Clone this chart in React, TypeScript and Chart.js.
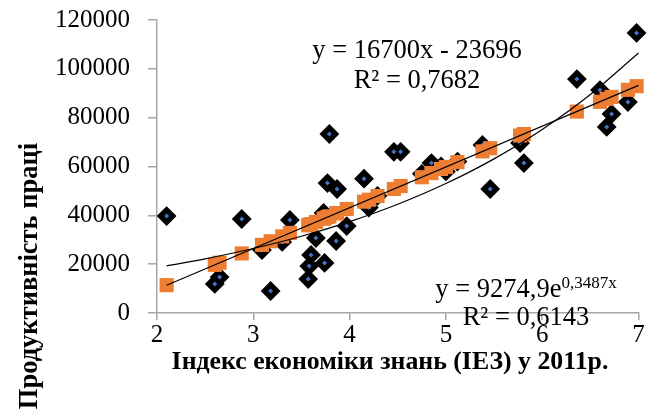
import React, { useEffect, useRef } from "react";
import { Chart, registerables } from "chart.js";

Chart.register(...registerables);

// Observed data: knowledge economy index (KEI) vs labour productivity
const KEI_X = [2.10, 2.60, 2.65, 2.88, 3.09, 3.18, 3.30, 3.38, 3.57, 3.58, 3.60, 3.65, 3.73, 3.74, 3.77, 3.79, 3.86, 3.87, 3.97, 4.15, 4.20, 4.29, 4.46, 4.53, 4.75, 4.85, 4.95, 5.00, 5.12, 5.38, 5.46, 5.77, 5.81, 6.36, 6.60, 6.67, 6.72, 6.89, 6.98];
const PRODUCTIVITY = [39700, 11900, 14700, 38500, 25800, 9000, 29100, 38100, 13900, 19200, 23800, 30700, 41000, 20500, 53200, 73300, 29500, 50800, 35600, 55000, 43200, 48000, 66000, 66000, 57000, 61400, 60000, 58000, 62000, 68800, 50800, 69600, 61400, 95800, 91300, 76200, 81500, 86400, 114700];
// Predicted (fitted) values shown as orange squares
const PREDICTED = [11400, 19700, 20600, 24400, 27900, 29400, 31400, 32800, 35900, 36100, 36400, 37300, 38600, 38800, 39300, 39600, 40800, 40900, 42600, 45600, 46400, 47900, 50800, 52000, 55600, 57300, 59000, 59800, 61800, 66200, 67500, 72700, 73300, 82500, 86500, 87700, 88500, 91400, 92900];
// Linear trend line endpoints
const LIN_X = [2.1, 7.0];
const LIN_Y = [11374, 93204];
// Exponential trend line values
const EXP_X = [2.1, 2.5, 3.0, 3.5, 4.0, 4.5, 5.0, 5.5, 6.0, 6.5, 7.0];
const EXP_Y = [19289, 22177, 26402, 31431, 37418, 44545, 53030, 63129, 75152, 89467, 106508];

const X_TICKS = [2, 3, 4, 5, 6, 7];
const Y_TICKS = [0, 20000, 40000, 60000, 80000, 100000, 120000];

const X_TITLE = "Індекс економіки знань (ІЕЗ) у 2011р.";
const Y_TITLE = "Продуктивність праці";
const LIN_EQ = "y = 16700x - 23696";
const LIN_R2 = "R² = 0,7682";
const EXP_EQ_MAIN = "y = 9274,9e";
const EXP_EQ_SUP = "0,3487x";
const EXP_R2 = "R² = 0,6143";

const SERIF = "'Liberation Serif', 'Times New Roman', serif";

const pts = (xs: number[], ys: number[]) => xs.map((x, i) => ({ x, y: ys[i] }));

const annotations = {
  id: "annotations",
  afterDraw(chart: any) {
    const ctx = chart.ctx as CanvasRenderingContext2D;
    ctx.save();
    ctx.fillStyle = "#000";
    ctx.textBaseline = "alphabetic";
    ctx.font = `26.5px ${SERIF}`;
    ctx.textAlign = "center";
    ctx.fillText(LIN_EQ, 417, 58);
    ctx.fillText(LIN_R2, 417, 88);

    ctx.font = `26.5px ${SERIF}`;
    const w1 = ctx.measureText(EXP_EQ_MAIN).width;
    ctx.font = `17px ${SERIF}`;
    const w2 = ctx.measureText(EXP_EQ_SUP).width;
    const start = 526 - (w1 + w2) / 2;
    ctx.textAlign = "left";
    ctx.font = `26.5px ${SERIF}`;
    ctx.fillText(EXP_EQ_MAIN, start, 297);
    ctx.font = `17px ${SERIF}`;
    ctx.fillText(EXP_EQ_SUP, start + w1, 288);
    ctx.font = `26.5px ${SERIF}`;
    ctx.textAlign = "center";
    ctx.fillText(EXP_R2, 526, 325);

    ctx.font = `bold 25.8px ${SERIF}`;
    ctx.fillText(X_TITLE, 390, 369);

    ctx.font = `bold 26.5px ${SERIF}`;
    ctx.translate(37, 276);
    ctx.rotate(-Math.PI / 2);
    ctx.fillText(Y_TITLE, 0, 0);
    ctx.restore();
  },
};

export default function App() {
  const ref = useRef<HTMLCanvasElement | null>(null);

  useEffect(() => {
    if (!ref.current) return;
    const chart = new Chart(ref.current, {
      type: "scatter",
      data: {
        datasets: [
          {
            label: "linear",
            type: "line",
            data: pts(LIN_X, LIN_Y),
            borderColor: "#000",
            borderWidth: 1.2,
            pointRadius: 0,
            showLine: true,
            order: 0,
            clip: false,
          } as any,
          {
            label: "exp",
            type: "line",
            data: pts(EXP_X, EXP_Y),
            borderColor: "#000",
            borderWidth: 1.2,
            pointRadius: 0,
            showLine: true,
            cubicInterpolationMode: "monotone",
            order: 0,
            clip: false,
          } as any,
          {
            label: "predicted",
            data: pts(KEI_X, PREDICTED),
            pointStyle: "rect",
            pointRadius: 10,
            backgroundColor: "#ED7D31",
            borderColor: "#ED7D31",
            borderWidth: 0,
            order: 1,
            clip: false,
          } as any,
          {
            label: "dots",
            data: pts(KEI_X, PRODUCTIVITY),
            pointStyle: "rectRot",
            pointRadius: 2.5,
            backgroundColor: "#4472C4",
            borderColor: "#4472C4",
            borderWidth: 0,
            order: 2,
            clip: false,
          } as any,
          {
            label: "actual",
            data: pts(KEI_X, PRODUCTIVITY),
            pointStyle: "rectRot",
            pointRadius: 8.5,
            backgroundColor: "#000",
            borderColor: "#000",
            borderWidth: 2,
            order: 3,
            clip: false,
          } as any,
        ],
      },
      options: {
        animation: false,
        responsive: true,
        maintainAspectRatio: false,
        layout: { padding: { left: 0, right: 0, top: 20, bottom: 0 } },
        plugins: { legend: { display: false }, tooltip: { enabled: false } },
        scales: {
          x: {
            type: "linear",
            min: 2,
            max: 7,
            afterFit: (s: any) => { s.height = 101; s.paddingLeft = 0; s.paddingRight = 7; },
            afterBuildTicks: (s: any) => { s.ticks = X_TICKS.map((v) => ({ value: v })); },
            grid: { drawOnChartArea: false, drawTicks: true, tickLength: 7, color: "#A6A6A6", lineWidth: 1.5 },
            border: { display: true, color: "#A6A6A6", width: 1.5 },
            ticks: { color: "#000", font: { family: SERIF, size: 25 }, padding: 0, maxRotation: 0 },
          },
          y: {
            type: "linear",
            min: 0,
            max: 120000,
            afterFit: (s: any) => { s.width = 157; s.paddingTop = 0; s.paddingBottom = 0; },
            afterBuildTicks: (s: any) => { s.ticks = Y_TICKS.map((v) => ({ value: v })); },
            grid: { drawOnChartArea: false, drawTicks: true, tickLength: 9, color: "#A6A6A6", lineWidth: 1.5 },
            border: { display: true, color: "#A6A6A6", width: 1.5 },
            ticks: { color: "#000", font: { family: SERIF, size: 25 }, padding: 18, callback: (v: any) => String(v) },
          },
        },
      },
      plugins: [annotations],
    } as any);
    return () => chart.destroy();
  }, []);

  return (
    <div style={{ position: "absolute", left: 0, top: 0, width: 649, height: 414, background: "#fff" }}>
      <canvas ref={ref} />
    </div>
  );
}
